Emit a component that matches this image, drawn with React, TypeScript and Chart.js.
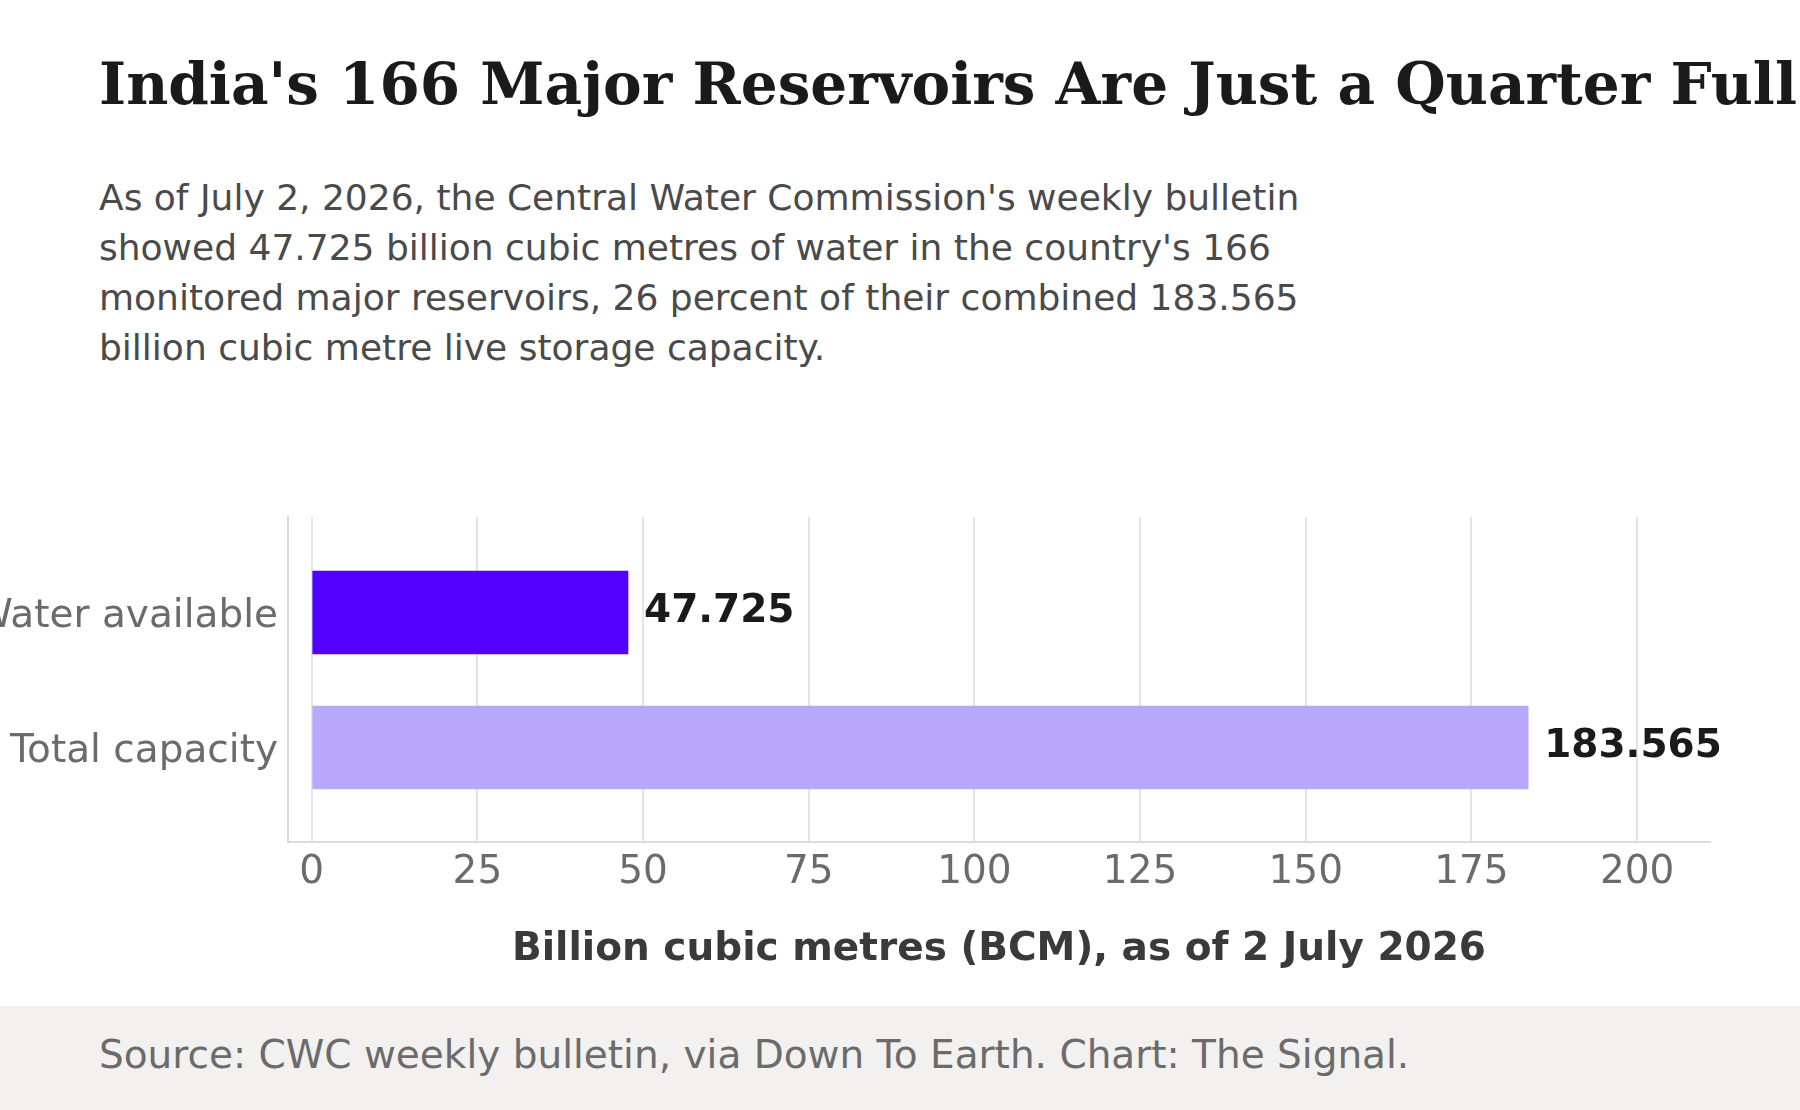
import React, { useEffect, useRef } from "react";
import { Chart, registerables } from "chart.js";

Chart.register(...registerables);

const CATEGORIES = ["Water available", "Total capacity"];
const VALUES = [47.725, 183.565];
const BAR_COLORS = ["#5200ff", "#b8a9ff"];
const X_TICKS = [0, 25, 50, 75, 100, 125, 150, 175, 200];

const TITLE = "India's 166 Major Reservoirs Are Just a Quarter Full";
const SUBTITLE_LINES = [
  "As of July 2, 2026, the Central Water Commission's weekly bulletin",
  "showed 47.725 billion cubic metres of water in the country's 166",
  "monitored major reservoirs, 26 percent of their combined 183.565",
  "billion cubic metre live storage capacity.",
];
const X_TITLE = "Billion cubic metres (BCM), as of 2 July 2026";
const SOURCE = "Source: CWC weekly bulletin, via Down To Earth. Chart: The Signal.";

const SANS = "'DejaVu Sans', sans-serif";
const SERIF = "'DejaVu Serif', serif";

const CANVAS_TOP = 440;
const CANVAS_H = 560;

const valueLabels = {
  id: "valueLabels",
  afterDatasetsDraw(chart: any) {
    const ctx = chart.ctx;
    const meta = chart.getDatasetMeta(0);
    ctx.save();
    ctx.font = `bold 39px ${SANS}`;
    ctx.fillStyle = "#1a1a1a";
    ctx.textAlign = "left";
    ctx.textBaseline = "alphabetic";
    meta.data.forEach((bar: any, i: number) => {
      ctx.fillText(VALUES[i].toFixed(3), bar.x + 16, bar.y + 10);
    });
    ctx.restore();
  },
};

export default function App() {
  const ref = useRef<HTMLCanvasElement>(null);

  useEffect(() => {
    if (!ref.current) return;
    const chart = new Chart(ref.current, {
      type: "bar",
      data: {
        datasets: [
          {
            data: VALUES.map((v, i) => ({ x: v, y: i })),
            backgroundColor: BAR_COLORS,
            borderWidth: 0,
            barThickness: 83,
          },
        ],
      },
      options: {
        indexAxis: "y",
        animation: false,
        responsive: false,
        devicePixelRatio: 1,
        layout: { padding: { top: 77, right: 90, bottom: 0, left: 0 } },
        plugins: {
          legend: { display: false },
          tooltip: { enabled: false },
          title: { display: false },
        },
        scales: {
          x: {
            type: "linear",
            position: "bottom",
            min: -3.58,
            max: 211,
            afterBuildTicks: (s: any) => {
              s.ticks = X_TICKS.map((v) => ({ value: v }));
            },
            afterFit: (s: any) => {
              s.height = 158;
            },
            ticks: {
              color: "#6b6b6b",
              font: { family: SANS, size: 39 },
              padding: 7,
              maxRotation: 0,
              autoSkip: false,
            },
            grid: {
              color: "#e4e4e0",
              lineWidth: 2,
              drawTicks: false,
            },
            border: { display: true, color: "#dcdcd6", width: 2 },
          },
          y: {
            type: "linear",
            offset: false,
            reverse: true,
            min: -0.707,
            max: 1.7,
            afterBuildTicks: (s: any) => {
              s.ticks = CATEGORIES.map((_, i) => ({ value: i }));
            },
            afterFit: (s: any) => {
              s.width = 288;
            },
            ticks: {
              color: "#6b6b6b",
              font: { family: SANS, size: 39 },
              padding: 10,
              labelOffset: 4,
              callback: (v: any) => CATEGORIES[v] ?? "",
            },
            grid: { display: false, drawTicks: false, offset: false },
            border: { display: true, color: "#dcdcd6", width: 2 },
          },
        },
      } as any,
      plugins: [valueLabels],
    });
    return () => chart.destroy();
  }, []);

  return (
    <div
      style={{
        position: "absolute",
        left: 0,
        top: 0,
        width: 1800,
        height: 1110,
        overflow: "hidden",
        background: "#ffffff",
        fontFamily: SANS,
      }}
    >
      <div
        style={{
          position: "absolute",
          left: 99,
          top: 55,
          fontFamily: SERIF,
          fontWeight: "bold",
          fontSize: 58,
          lineHeight: "58px",
          color: "#1a1a1a",
          whiteSpace: "nowrap",
        }}
      >
        {TITLE}
      </div>
      <div
        style={{
          position: "absolute",
          left: 99,
          top: 172.5,
          fontSize: 36,
          lineHeight: "50px",
          color: "#4a4a4a",
          whiteSpace: "nowrap",
        }}
      >
        {SUBTITLE_LINES.map((l, i) => (
          <div key={i}>{l}</div>
        ))}
      </div>
      <canvas
        ref={ref}
        width={1800}
        height={CANVAS_H}
        style={{
          position: "absolute",
          left: 0,
          top: CANVAS_TOP,
          width: 1800,
          height: CANVAS_H,
        }}
      />
      <div
        style={{
          position: "absolute",
          left: 288,
          width: 1422,
          top: 927,
          fontSize: 39,
          lineHeight: "39px",
          fontWeight: "bold",
          color: "#3a3a3a",
          textAlign: "center",
          whiteSpace: "nowrap",
        }}
      >
        {X_TITLE}
      </div>
      <div
        style={{
          position: "absolute",
          left: 0,
          top: 1006,
          width: 1800,
          height: 104,
          background: "#f2f1ef",
        }}
      >
        <div
          style={{
            position: "absolute",
            left: 99,
            top: 29,
            fontSize: 39,
            lineHeight: "39px",
            color: "#6b6b6b",
            whiteSpace: "nowrap",
          }}
        >
          {SOURCE}
        </div>
      </div>
    </div>
  );
}
